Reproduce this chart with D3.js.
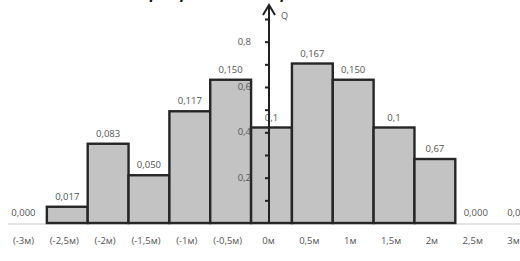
<!DOCTYPE html>
<html>
<head>
<meta charset="utf-8">
<script src="https://cdn.jsdelivr.net/npm/d3@7"></script>
<style>
  body { margin: 0; background: #fff; }
  text { font-family: "Open Sans", "DejaVu Sans", sans-serif; }
</style>
</head>
<body>
<svg id="chart"></svg>
<script>
// Set dimensions for the SVG
const width = 520;
const height = 261;

// chart data
const categories = ["(-3м)", "(-2,5м)", "(-2м)", "(-1,5м)", "(-1м)", "(-0,5м)", "0м", "0,5м", "1м", "1,5м", "2м", "2,5м", "3м"];
const values = [0, 0.017, 0.083, 0.05, 0.117, 0.15, 0.1, 0.167, 0.15, 0.1, 0.067, 0, 0];
const valueLabels = ["0,000", "0,017", "0,083", "0,050", "0,117", "0,150", "0,1", "0,167", "0,150", "0,1", "0,67", "0,000", "0,00"];
const qTicks = [0.1, 0.2, 0.3, 0.4, 0.5, 0.6, 0.7, 0.8, 0.9];
const qTickLabels = { 0.2: "0,2", 0.4: "0,4", 0.6: "0,6", 0.8: "0,8" };

const svg = d3.select("#chart")
              .attr("width", width)
              .attr("height", height);

// scales
const x = d3.scaleBand().domain(categories).range([6, 537]).padding(0);
const y = d3.scaleLinear().domain([0, 0.2]).range([223, 32]);
const yQ = d3.scaleLinear().domain([0, 0.9]).range([223, 19]);

// title, mostly cut off at the top edge
svg.append("text")
   .attr("x", 150)
   .attr("y", -1)
   .attr("font-family", "Liberation Serif")
   .attr("font-style", "italic")
   .attr("font-weight", "bold")
   .attr("font-size", 15)
   .attr("fill", "#111")
   .text("р      Вероятностей р");

// light baseline
svg.append("line")
   .attr("x1", 8).attr("x2", width)
   .attr("y1", y(0) + 1).attr("y2", y(0) + 1)
   .attr("stroke", "#c8c8c8")
   .attr("stroke-width", 1);

// bars
svg.selectAll("rect.bar")
   .data(values.map((v, i) => ({ cat: categories[i], v: v })).filter(d => d.v > 0))
   .enter().append("rect")
   .attr("class", "bar")
   .attr("x", d => x(d.cat))
   .attr("y", d => y(d.v))
   .attr("width", x.bandwidth())
   .attr("height", d => y(0) - y(d.v))
   .attr("fill", "#c3c3c3")
   .attr("stroke", "#262626")
   .attr("stroke-width", 2.4);

// value labels
svg.selectAll("text.val")
   .data(valueLabels)
   .enter().append("text")
   .attr("class", "val")
   .attr("x", (d, i) => x(categories[i]) + x.bandwidth() / 2 - (i === 0 ? 3 : 0))
   .attr("y", (d, i) => y(values[i]) - 7)
   .attr("text-anchor", "middle")
   .attr("font-size", 9.5)
   .attr("fill", "#555")
   .text(d => d);

// category labels
svg.selectAll("text.cat")
   .data(categories)
   .enter().append("text")
   .attr("class", "cat")
   .attr("x", d => x(d) + x.bandwidth() / 2 - 3)
   .attr("y", 244)
   .attr("text-anchor", "middle")
   .attr("font-size", 9.5)
   .attr("fill", "#555")
   .text(d => d);

// Q axis
const ax = 269;
const qAxis = svg.append("g")
   .attr("transform", `translate(${ax},0)`)
   .call(d3.axisLeft(yQ).tickValues(qTicks).tickSize(4).tickFormat(""));
qAxis.select(".domain").remove();
qAxis.selectAll(".tick line").attr("stroke", "#222").attr("stroke-width", 2);

svg.selectAll("text.qlab")
   .data(qTicks.filter(t => qTickLabels[t]))
   .enter().append("text")
   .attr("class", "qlab")
   .attr("x", ax - 18)
   .attr("y", d => yQ(d) + 3)
   .attr("text-anchor", "end")
   .attr("font-size", 9.5)
   .attr("fill", "#555")
   .text(d => qTickLabels[d]);

svg.append("line")
   .attr("x1", ax).attr("x2", ax)
   .attr("y1", 5).attr("y2", y(0))
   .attr("stroke", "#222")
   .attr("stroke-width", 2);

svg.append("path")
   .attr("d", `M${ax - 6},15 L${ax},5 L${ax + 6},15`)
   .attr("fill", "none")
   .attr("stroke", "#222")
   .attr("stroke-width", 2);

svg.append("text")
   .attr("x", ax + 12)
   .attr("y", 19)
   .attr("font-size", 9)
   .attr("fill", "#555")
   .text("Q");
</script>
</body>
</html>
